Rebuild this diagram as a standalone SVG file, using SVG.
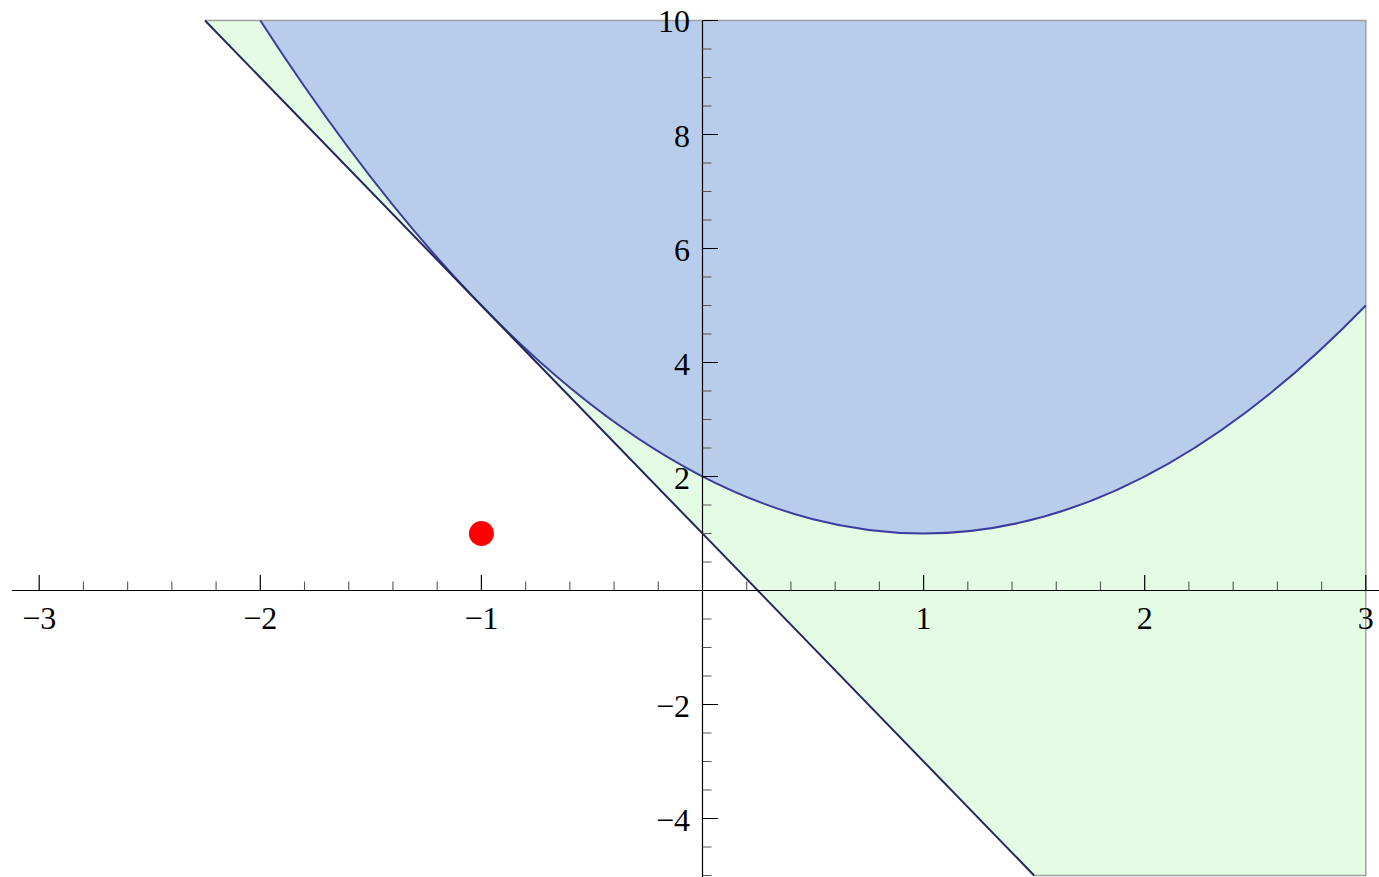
<svg xmlns="http://www.w3.org/2000/svg" width="1379" height="877" viewBox="0 0 1379 877">
<style>
.lbl{font-family:"Liberation Serif","Times New Roman",serif;font-size:32px;fill:#000}
.xl{text-anchor:middle}
.yl{text-anchor:end}
.edge{fill:none;stroke:#a0a0a0;stroke-width:1.5}
.maj{stroke:#000;stroke-width:1.2;fill:none}
.min{stroke:#555;stroke-width:1.1;fill:none}
</style>
<rect width="1379" height="877" fill="#fff"/>
<g id="green-region">
<path d="M205,20.5 L1365.8,20.5 L1365.8,875.5 L1034.15,875.5 Z" fill="#e4fce4"/>
</g>
<g id="blue-region">
<path d="M260.3,20.5 Q813.05,875.5 1365.8,305.5 L1365.8,20.5 Z" fill="#b8cceb"/>
</g>
<g id="edges">
<path class="edge" d="M205,20.5 L1365.8,20.5 L1365.8,875.5 L1034.15,875.5"/>
</g>
<g id="connectors">
<path d="M260.3,20.5 Q813.05,875.5 1365.8,305.5" fill="none" stroke="#3c3c9e" stroke-width="2"/>
<path d="M205,20.5 L1034.15,875.5" fill="none" stroke="#25285a" stroke-width="2"/>
</g>
<g id="axes">
<path class="maj" d="M12,590.5 H1379 M702.5,20.5 V877"/>
<path class="maj" d="M39.2,590.5V575 M260.3,590.5V575 M481.4,590.5V575 M923.6,590.5V575 M1144.7,590.5V575 M1365.8,590.5V575"/>
<path class="min" d="M83.42,590.5V581.5 M127.64,590.5V581.5 M171.86,590.5V581.5 M216.08,590.5V581.5 M304.52,590.5V581.5 M348.74,590.5V581.5 M392.96,590.5V581.5 M437.18,590.5V581.5 M525.62,590.5V581.5 M569.84,590.5V581.5 M614.06,590.5V581.5 M658.28,590.5V581.5 M746.72,590.5V581.5 M790.94,590.5V581.5 M835.16,590.5V581.5 M879.38,590.5V581.5 M967.82,590.5V581.5 M1012.04,590.5V581.5 M1056.26,590.5V581.5 M1100.48,590.5V581.5 M1188.92,590.5V581.5 M1233.14,590.5V581.5 M1277.36,590.5V581.5 M1321.58,590.5V581.5"/>
<path class="maj" d="M702.5,20.5H718 M702.5,134.5H718 M702.5,248.5H718 M702.5,362.5H718 M702.5,476.5H718 M702.5,704.5H718 M702.5,818.5H718"/>
<path class="min" d="M702.5,49H711.5 M702.5,77.5H711.5 M702.5,106H711.5 M702.5,163H711.5 M702.5,191.5H711.5 M702.5,220H711.5 M702.5,277H711.5 M702.5,305.5H711.5 M702.5,334H711.5 M702.5,391H711.5 M702.5,419.5H711.5 M702.5,448H711.5 M702.5,505H711.5 M702.5,533.5H711.5 M702.5,562H711.5 M702.5,619H711.5 M702.5,647.5H711.5 M702.5,676H711.5 M702.5,733H711.5 M702.5,761.5H711.5 M702.5,790H711.5 M702.5,847H711.5 M702.5,875.5H711.5"/>
</g>
<g id="x-labels">
<text class="lbl xl" x="39.2" y="629">−3</text>
<text class="lbl xl" x="260.3" y="629">−2</text>
<text class="lbl xl" x="481.4" y="629">−1</text>
<text class="lbl xl" x="923.6" y="629">1</text>
<text class="lbl xl" x="1144.7" y="629">2</text>
<text class="lbl xl" x="1365.8" y="629">3</text>
</g>
<g id="y-labels">
<text class="lbl yl" x="690" y="32">10</text>
<text class="lbl yl" x="690" y="146.5">8</text>
<text class="lbl yl" x="690" y="260.5">6</text>
<text class="lbl yl" x="690" y="374.5">4</text>
<text class="lbl yl" x="690" y="488.5">2</text>
<text class="lbl yl" x="690" y="716.5">−2</text>
<text class="lbl yl" x="690" y="830.5">−4</text>
</g>
<g id="point">
<circle cx="481.4" cy="533.5" r="12.5" fill="#ff0000"/>
</g>
</svg>
